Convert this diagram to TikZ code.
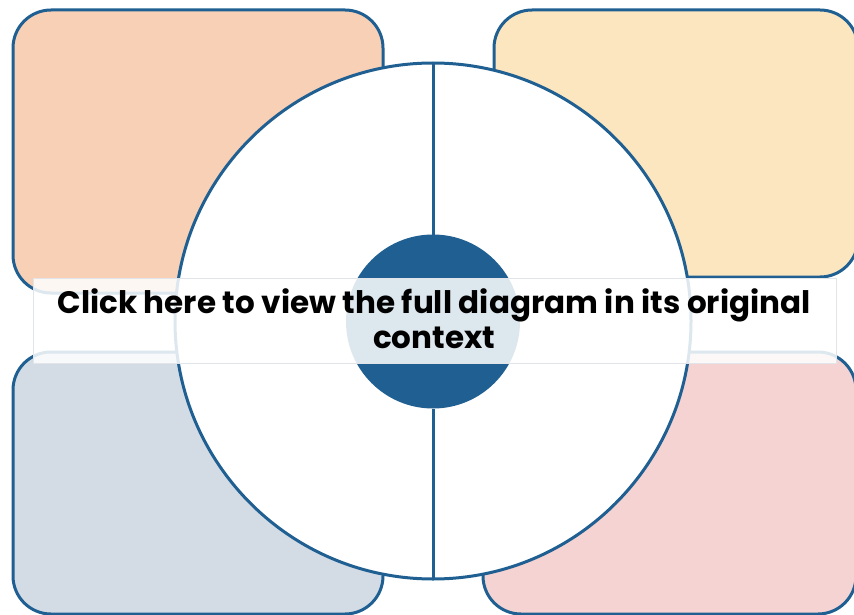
\documentclass[tikz,border=0pt]{standalone}
\usepackage{fontspec}
\setmainfont{Poppins}
\definecolor{lineblue}{RGB}{31,95,145}
\definecolor{peach}{RGB}{248,208,181}
\definecolor{cream}{RGB}{252,230,192}
\definecolor{greyblue}{RGB}{211,220,229}
\definecolor{rose}{RGB}{245,211,210}
\definecolor{bannerline}{RGB}{225,228,232}
\begin{document}
\begin{tikzpicture}[x=1pt,y=-1pt,
  quad/.style={draw=lineblue, line width=3pt, rounded corners=38pt, inner sep=0pt, outer sep=0pt},
  ring/.style={circle, draw=lineblue, line width=3pt, fill=white, inner sep=0pt, outer sep=0pt},
  hubstyle/.style={circle, fill=lineblue, inner sep=0pt, outer sep=0pt},
  divider/.style={draw=lineblue, line width=3pt},
  bannerbox/.style={draw=bannerline, line width=1pt, fill=white, fill opacity=0.85, inner sep=0pt},
  bannertext/.style={font=\bfseries\fontsize{31}{35}\selectfont, align=center, text=black}]
\useasboundingbox (0,0) rectangle (854,615);
\clip (0,0) rectangle (854,615);
\node[quad, fill=peach, minimum width=370pt, minimum height=283pt] (tl) at (198,151.5) {};
\node[quad, fill=cream, minimum width=364pt, minimum height=267pt] (tr) at (676,143.5) {};
\node[quad, fill=greyblue, minimum width=370pt, minimum height=262pt] (bl) at (198,483) {};
\node[quad, fill=rose, minimum width=373pt, minimum height=262pt] (br) at (669.5,483) {};
\node[ring, minimum size=516pt] (ring) at (433,321) {};
\node[hubstyle, minimum size=174pt] (hub) at (433,321.5) {};
\draw[divider] (ring.north) -- (hub.north);
\draw[divider] (hub.south) -- (ring.south);
\node[bannerbox, minimum width=803pt, minimum height=85pt] (banner) at (434.5,320.5) {};
\node[bannertext] (caption) at (434,319) {Click here to view the full diagram in its original\\context};
\end{tikzpicture}
\end{document}
